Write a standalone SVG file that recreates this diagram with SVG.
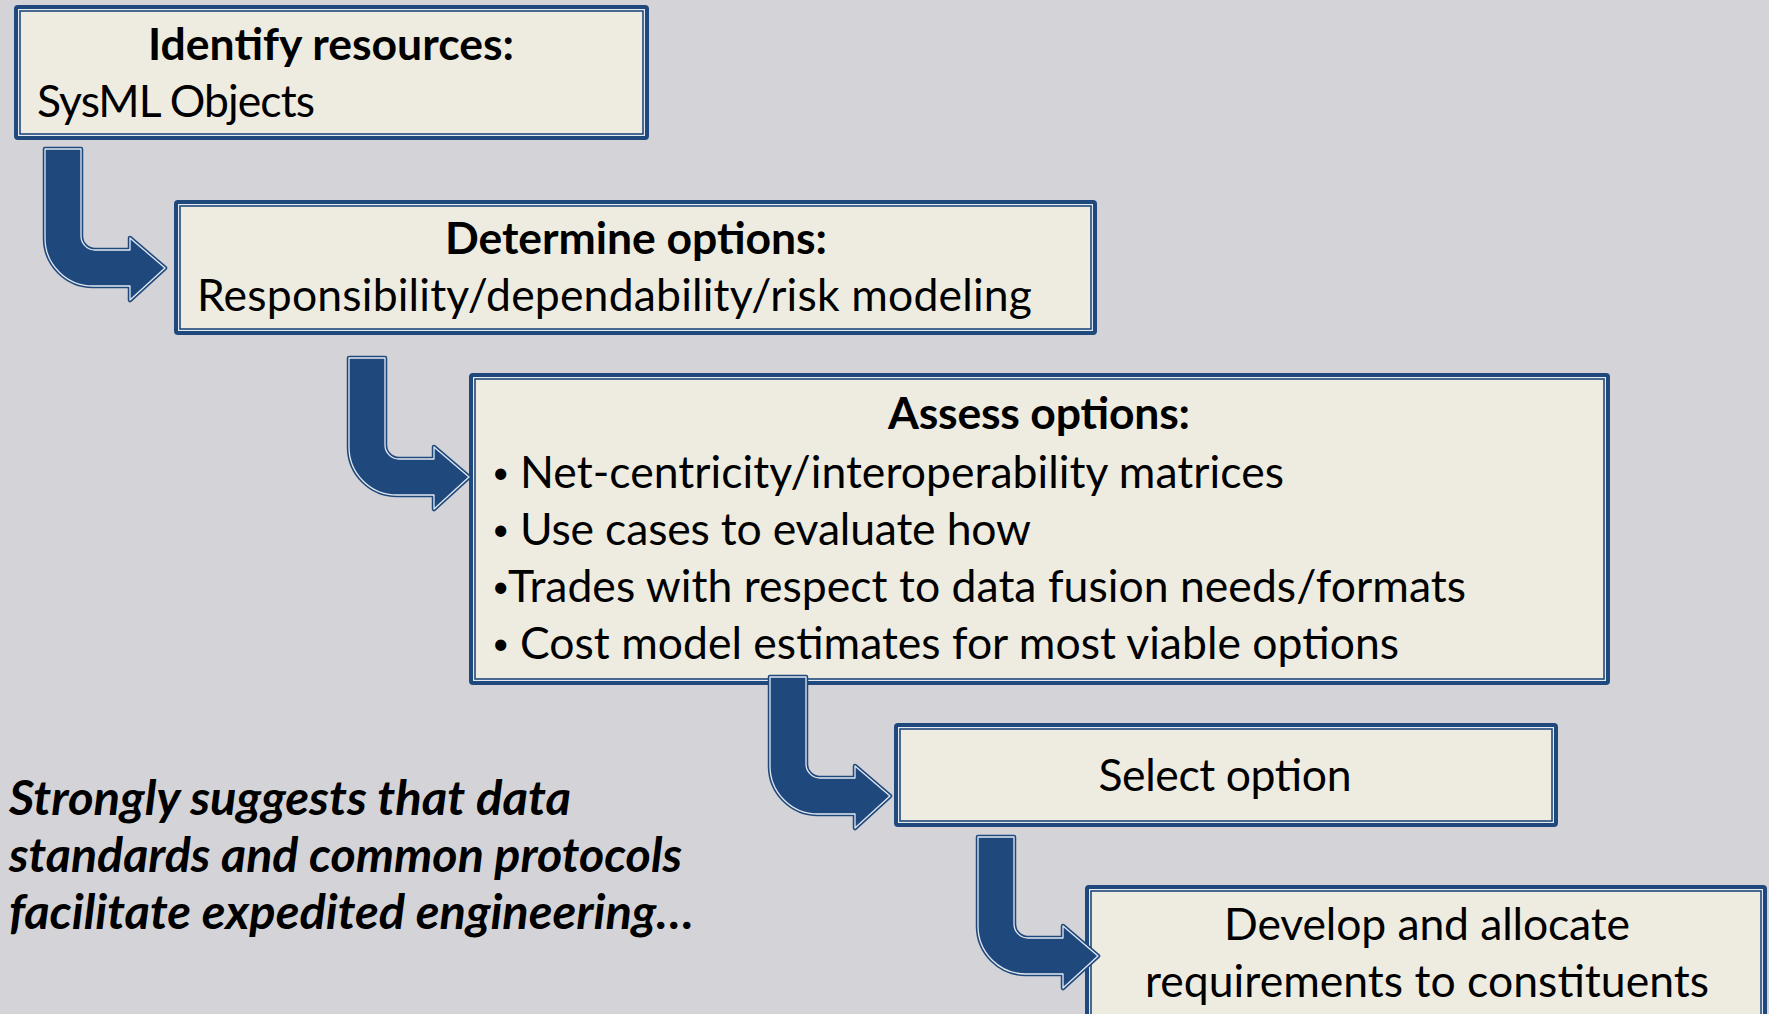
<svg xmlns="http://www.w3.org/2000/svg" width="1769" height="1014" viewBox="0 0 1769 1014">
  <defs>
    <style>
      .frame { fill: #eeece1; stroke: #1f497d; stroke-width: 4; }
      .gap { fill: none; stroke: #e4e9f1; stroke-width: 1.2; }
      .inner { fill: none; stroke: #1f497d; stroke-width: 1.6; }
      .t { font-family: Lato, "Liberation Sans", sans-serif; font-size: 44.5px; fill: #000; }
      .dot { font-family: Lato, "Liberation Sans", sans-serif; font-size: 30px; fill: #000; }
      .b { font-weight: bold; }
      .c { text-anchor: middle; }
      .note { font-family: Lato, "Liberation Sans", sans-serif; font-size: 47px; font-weight: bold; font-style: italic; fill: #000; }
      .arrow-body { fill: #1f497d; stroke: #1f497d; stroke-width: 4.5; stroke-linejoin: round; }
      .arrow-edge { fill: none; stroke: #e4e9f1; stroke-width: 1.3; stroke-linejoin: round; }
    </style>
    <!-- bent arrow: vertical shaft turning right into an arrowhead -->
    <path id="bend" d="M0,0 H36 V87 A14,14 0 0 0 50,101 H85 V89 L120,119 L85,151 V137 H48 A48,48 0 0 1 0,89 Z"/>
  </defs>

  <rect x="0" y="0" width="1769" height="1014" fill="#d4d4d8"/>

  <g id="identify-resources">
    <rect class="frame" x="16" y="7" width="631" height="131" rx="2"/>
    <rect class="gap" x="18.6" y="9.6" width="625.8" height="125.8"/>
    <rect class="inner" x="20" y="11" width="623" height="123"/>
    <text class="t b c" x="331" y="60" textLength="366">Identify resources:</text>
    <text class="t" x="37" y="117" textLength="278">SysML Objects</text>
  </g>

  <g id="determine-options">
    <rect class="frame" x="176" y="202" width="919" height="131" rx="2"/>
    <rect class="gap" x="178.6" y="204.6" width="913.8" height="125.8"/>
    <rect class="inner" x="180" y="206" width="911" height="123"/>
    <text class="t b c" x="636" y="254" textLength="382">Determine options:</text>
    <text class="t" x="197" y="311" textLength="835">Responsibility/dependability/risk modeling</text>
  </g>

  <g id="assess-options">
    <rect class="frame" x="471" y="375" width="1137" height="308" rx="2"/>
    <rect class="gap" x="473.6" y="377.6" width="1131.8" height="302.8"/>
    <rect class="inner" x="475" y="379" width="1129" height="300"/>
    <text class="t b c" x="1039" y="429" textLength="302">Assess options:</text>
    <text class="dot" x="492" y="483">•</text>
    <text class="t" x="520" y="488" textLength="764">Net-centricity/interoperability matrices</text>
    <text class="dot" x="492" y="540">•</text>
    <text class="t" x="520" y="545" textLength="511">Use cases to evaluate how</text>
    <text class="dot" x="492" y="597">•</text>
    <text class="t" x="508" y="602" textLength="958">Trades with respect to data fusion needs/formats</text>
    <text class="dot" x="492" y="654">•</text>
    <text class="t" x="520" y="659" textLength="879">Cost model estimates for most viable options</text>
  </g>

  <g id="select-option">
    <rect class="frame" x="896" y="725" width="660" height="100" rx="2"/>
    <rect class="gap" x="898.6" y="727.6" width="654.8" height="94.8"/>
    <rect class="inner" x="900" y="729" width="652" height="92"/>
    <text class="t c" x="1225" y="791" textLength="253">Select option</text>
  </g>

  <g id="develop-requirements">
    <rect class="frame" x="1087" y="887" width="678" height="140" rx="2"/>
    <rect class="gap" x="1089.6" y="889.6" width="672.8" height="140"/>
    <rect class="inner" x="1091" y="891" width="670" height="140"/>
    <text class="t c" x="1427" y="940" textLength="406">Develop and allocate</text>
    <text class="t c" x="1427" y="997" textLength="564">requirements to constituents</text>
  </g>

  <g id="connectors">
    <g transform="translate(45,149)">
      <use href="#bend" class="arrow-body"/>
      <use href="#bend" class="arrow-edge"/>
    </g>
    <g transform="translate(349,358)">
      <use href="#bend" class="arrow-body"/>
      <use href="#bend" class="arrow-edge"/>
    </g>
    <g transform="translate(770,677)">
      <use href="#bend" class="arrow-body"/>
      <use href="#bend" class="arrow-edge"/>
    </g>
    <g transform="translate(978,837)">
      <use href="#bend" class="arrow-body"/>
      <use href="#bend" class="arrow-edge"/>
    </g>
  </g>

  <g id="remark">
    <text class="note" x="9" y="815" textLength="562" lengthAdjust="spacingAndGlyphs">Strongly suggests that data</text>
    <text class="note" x="9" y="872" textLength="673" lengthAdjust="spacingAndGlyphs">standards and common protocols</text>
    <text class="note" x="9" y="929" textLength="685" lengthAdjust="spacingAndGlyphs">facilitate expedited engineering…</text>
  </g>
</svg>
